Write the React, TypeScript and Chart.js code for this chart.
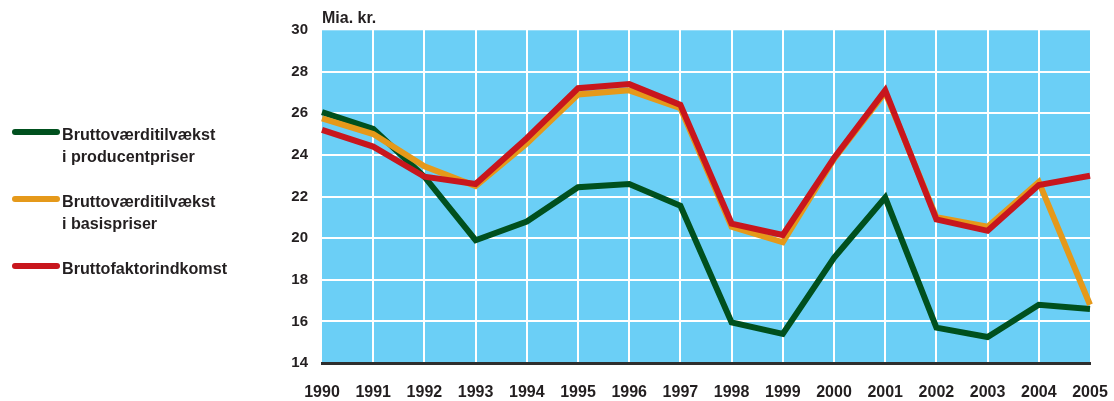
import React, { useEffect, useRef } from "react";
import { Chart, registerables } from "chart.js";

Chart.register(...registerables);

const years = ["1990","1991","1992","1993","1994","1995","1996","1997","1998","1999","2000","2001","2002","2003","2004","2005"];
const producentpriser = [26.05, 25.25, 22.95, 19.9, 20.8, 22.45, 22.6, 21.55, 15.95, 15.4, 19.05, 21.95, 15.7, 15.25, 16.8, 16.6];
const basispriser = [25.75, 25.0, 23.45, 22.5, 24.55, 26.9, 27.1, 26.25, 20.55, 19.8, 23.8, 27.0, 21.0, 20.55, 22.7, 16.8];
const faktorindkomst = [25.2, 24.4, 22.95, 22.6, 24.8, 27.2, 27.4, 26.4, 20.7, 20.15, 23.85, 27.1, 20.9, 20.35, 22.55, 23.0];
const yMin = 14;
const yMax = 30;
const yStep = 2;
const yUnit = "Mia. kr.";

const GREEN = "#00501E";
const ORANGE = "#E5991A";
const RED = "#C8161D";
const TEXT = "#231F20";
const FONT = "'Liberation Sans', Arial, sans-serif";

const legendItems = [
  { color: GREEN, lines: ["Bruttoværditilvækst", "i producentpriser"], top: 124 },
  { color: ORANGE, lines: ["Bruttoværditilvækst", "i basispriser"], top: 190.5 },
  { color: RED, lines: ["Bruttofaktorindkomst"], top: 258 },
];
const legendSwatchY = [131.7, 199, 266];

const bgPlugin = {
  id: "plotBg",
  beforeDraw(chart: any) {
    const { ctx, chartArea } = chart;
    ctx.save();
    ctx.fillStyle = "#6BCFF6";
    ctx.fillRect(chartArea.left, chartArea.top, chartArea.right - chartArea.left, chartArea.bottom - chartArea.top);
    ctx.restore();
  },
};

export default function App() {
  const ref = useRef<HTMLCanvasElement | null>(null);
  useEffect(() => {
    if (!ref.current) return;
    const chart = new Chart(ref.current, {
      type: "line",
      data: {
        labels: years,
        datasets: [
          { label: "Bruttoværditilvækst i producentpriser", data: producentpriser, borderColor: GREEN, borderWidth: 6, pointRadius: 0, tension: 0, order: 3 },
          { label: "Bruttoværditilvækst i basispriser", data: basispriser, borderColor: ORANGE, borderWidth: 6, pointRadius: 0, tension: 0, order: 2 },
          { label: "Bruttofaktorindkomst", data: faktorindkomst, borderColor: RED, borderWidth: 6, pointRadius: 0, tension: 0, order: 1 },
        ],
      },
      options: {
        animation: false,
        responsive: false,
        devicePixelRatio: 1,
        layout: { padding: { top: 30, right: 24, bottom: 0, left: 0 } },
        plugins: { legend: { display: false }, tooltip: { enabled: false } },
        scales: {
          x: {
            offset: false,
            afterFit: (s: any) => { s.height = 38; s.paddingLeft = 0; s.paddingRight = 0; },
            border: { display: true, color: "#2E2E2E", width: 3 },
            grid: {
              drawTicks: false,
              lineWidth: 2,
              color: (c: any) => (c.index === 0 || c.index === years.length - 1 ? "rgba(0,0,0,0)" : "#FFFFFF"),
            },
            ticks: { padding: 20, maxRotation: 0, autoSkip: false, color: TEXT, font: { family: FONT, size: 16, weight: "bold" } },
          },
          y: {
            min: yMin,
            max: yMax,
            afterFit: (s: any) => { s.width = 322; },
            border: { display: false },
            grid: {
              drawTicks: false,
              lineWidth: 2,
              color: (c: any) => (c.tick && c.tick.value === yMin ? "rgba(0,0,0,0)" : c.tick && c.tick.value === yMax ? "rgba(255,255,255,0.3)" : "#FFFFFF"),
            },
            ticks: { stepSize: yStep, padding: 14, color: TEXT, font: { family: FONT, size: 15, weight: "bold" } },
          },
        },
      },
      plugins: [bgPlugin],
    } as any);
    return () => chart.destroy();
  }, []);

  return (
    <div style={{ position: "absolute", left: 0, top: 0, width: 1114, height: 401, background: "#fff" }}>
      <canvas ref={ref} width={1114} height={401} style={{ position: "absolute", left: 0, top: 0 }} />
      <div style={{ position: "absolute", left: 322, top: 7, font: `bold 16px ${FONT}`, lineHeight: "22px", color: TEXT, whiteSpace: "nowrap" }}>{yUnit}</div>
      {legendItems.map((it, i) => (
        <div key={i}>
          <div style={{ position: "absolute", left: 12, top: legendSwatchY[i] - 3, width: 48, height: 6, borderRadius: 3, background: it.color }} />
          <div style={{ position: "absolute", left: 62, top: it.top, font: `bold 17px ${FONT}`, lineHeight: "22px", color: TEXT, whiteSpace: "nowrap", transform: "scaleX(0.95)", transformOrigin: "0 0" }}>
            {it.lines.map((l, j) => (<div key={j}>{l}</div>))}
          </div>
        </div>
      ))}
    </div>
  );
}
